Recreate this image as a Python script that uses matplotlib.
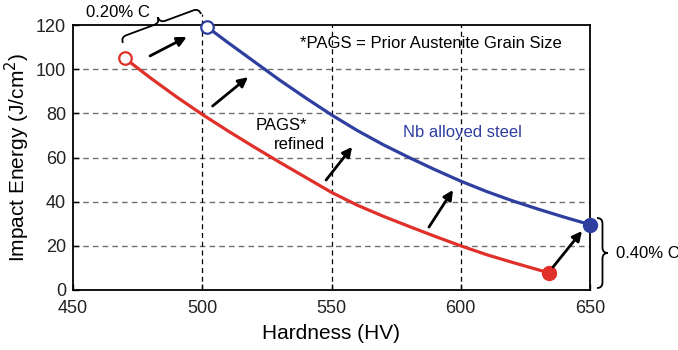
import matplotlib
matplotlib.use("Agg")
import matplotlib.pyplot as plt
from matplotlib.path import Path
from matplotlib.patches import PathPatch
from matplotlib.transforms import IdentityTransform
import numpy as np

plt.rcParams["font.family"] = ["Liberation Sans", "DejaVu Sans"]

# ---------------------------------------------------------------------
#  data
# ---------------------------------------------------------------------
base_hv = [470, 480, 490, 500, 510, 520, 530, 540, 550, 560, 570, 580,
           590, 600, 610, 620, 634]
base_ie = [105, 96, 87.5, 79.5, 72, 64.8, 57.8, 51, 44.2, 38.4, 33.4,
           28.8, 24.3, 20, 16, 12.5, 7.8]

nb_hv = [502, 510, 520, 530, 540, 550, 560, 570, 580, 590, 600, 610, 620,
         630, 640, 650]
nb_ie = [119, 112, 103.5, 95, 87, 79.3, 72.2, 65.8, 60, 54.5, 49.3, 44.6,
         40.4, 36.6, 33, 29.6]

# arrow tails / heads (HV, J/cm2)
arrows = [
    ((479.8, 106.0), (494.0, 114.6)),
    ((504.0, 83.3), (517.7, 96.4)),
    ((547.9, 49.8), (558.0, 64.8)),
    ((587.7, 28.5), (597.0, 45.3)),
    ((635.7, 10.4), (646.9, 26.7)),
]

RED = "#e0302a"
BLUE = "#2e3fa0"

fig = plt.figure(figsize=(6.78, 3.5), dpi=100)
ax = fig.add_axes([73 / 678, 1 - 290 / 350, 517 / 678, 265 / 350])
ax.set_xlim(450, 650)
ax.set_ylim(0, 120)

# grid
for yv in [20, 40, 60, 80, 100]:
    ax.axhline(yv, color="#707070", lw=1, ls=(0, (4, 3)), zorder=1)
for xv in [500, 550, 600]:
    ax.axvline(xv, color="black", lw=0.9, ls=(0, (4, 3)), zorder=1)
ax.plot([500, 500], [120, 125], color="black", lw=0.9, ls=(0, (4, 3)),
        clip_on=False, zorder=1)

# curves
ax.plot(base_hv, base_ie, color=RED, lw=2.3, zorder=3, solid_capstyle="round")
ax.plot(nb_hv, nb_ie, color=BLUE, lw=2.3, zorder=3, solid_capstyle="round")
ax.plot(base_hv[0], base_ie[0], "o", ms=9, mfc="white", mec=RED, mew=1.6,
        zorder=4, clip_on=False)
ax.plot(nb_hv[0], nb_ie[0], "o", ms=9, mfc="white", mec=BLUE, mew=1.6,
        zorder=4, clip_on=False)
ax.plot(base_hv[-1], base_ie[-1], "o", ms=10, color=RED, zorder=4, clip_on=False)
ax.plot(nb_hv[-1], nb_ie[-1], "o", ms=10, color=BLUE, zorder=4, clip_on=False)

# arrows
for tail, head in arrows:
    ax.annotate("", xy=head, xytext=tail,
                arrowprops=dict(arrowstyle="-|>", color="black", lw=2,
                                mutation_scale=14, shrinkA=0, shrinkB=0),
                zorder=5)

# texts
ax.text(537.8, 111.4, "*PAGS = Prior Austenite Grain Size", fontsize=12,
        va="center", ha="left")
ax.text(577.7, 71.5, "Nb alloyed steel", fontsize=12, color=BLUE,
        va="center", ha="left")
ax.text(530.5, 74.7, "PAGS*", fontsize=12, va="center", ha="center")
ax.text(537.5, 65.7, "refined", fontsize=12, va="center", ha="center")
ax.text(455, 125.5, "0.20% C", fontsize=12, va="center", ha="left",
        clip_on=False)
ax.text(660, 16.5, "0.40% C", fontsize=12, va="center", ha="left",
        clip_on=False)


# ---------------------------------------------------------------------
#  curly braces
# ---------------------------------------------------------------------
def brace(p1, p2, width):
    a = ax.transData.transform(p1)
    b = ax.transData.transform(p2)
    d = b - a
    L = np.hypot(*d)
    u = d / L
    n = np.array([-u[1], u[0]])
    q = width / 2
    local = [(0, 0), (0, q), (q, q), (L / 2 - q, q), (L / 2, q), (L / 2, width),
             (L / 2, q), (L / 2 + q, q), (L - q, q), (L, q), (L, 0)]
    codes = [Path.MOVETO, Path.CURVE3, Path.CURVE3, Path.LINETO, Path.CURVE3,
             Path.CURVE3, Path.CURVE3, Path.CURVE3, Path.LINETO, Path.CURVE3,
             Path.CURVE3]
    verts = [a + s * u + t * n for s, t in local]
    patch = PathPatch(Path(verts, codes), fill=False, lw=1.3, color="black",
                      transform=IdentityTransform(), clip_on=False)
    fig.add_artist(patch)


brace((469.3, 111.9), (499.5, 125.0), 12)
brace((652.7, 32.6), (652.7, 0.9), 11)

# axes cosmetics
for s in ax.spines.values():
    s.set_linewidth(1.3)
ax.set_xticks([450, 500, 550, 600, 650])
ax.set_yticks([0, 20, 40, 60, 80, 100, 120])
ax.tick_params(direction="in", length=4, width=1, labelsize=13, pad=5,
               labelcolor="#222222")
ax.tick_params(axis="x", pad=7.5)
ax.set_xlabel("Hardness (HV)", fontsize=15, labelpad=5)
ax.set_ylabel("Impact Energy (J/cm$^2$)", fontsize=15, labelpad=3)

fig.savefig("out.png", dpi=100)
